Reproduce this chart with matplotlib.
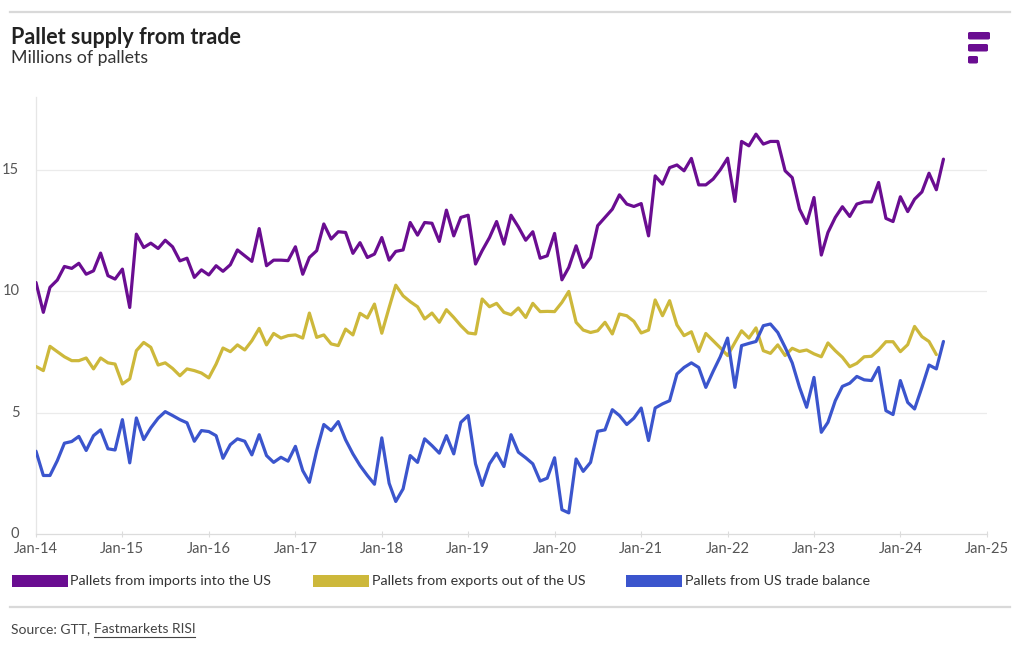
import matplotlib
matplotlib.use("Agg")
import matplotlib.pyplot as plt
import matplotlib.dates as mdates
from matplotlib.patches import Rectangle, FancyBboxPatch
from matplotlib.lines import Line2D
import pandas as pd

# ---------------- data (millions of pallets, monthly) ----------------
imports_us = [
    10.36, 9.13, 10.16, 10.46, 11.02, 10.94, 11.15, 10.70, 10.84, 11.57, 10.64, 10.50,
    10.91, 9.33, 12.35, 11.80, 11.98, 11.76, 12.10, 11.83, 11.25, 11.36, 10.57, 10.88,
    10.67, 11.05, 10.82, 11.09, 11.70, 11.46, 11.23, 12.58, 11.05, 11.28, 11.28, 11.26,
    11.83, 10.70, 11.39, 11.67, 12.77, 12.15, 12.45, 12.42, 11.56, 12.00, 11.39, 11.53,
    12.21, 11.28, 11.64, 11.70, 12.83, 12.31, 12.83, 12.80, 12.05, 13.34, 12.28, 13.04,
    13.13, 11.12, 11.67, 12.21, 12.87, 11.94, 13.13, 12.65, 12.10, 12.45, 11.36, 11.46,
    12.38, 10.47, 10.98, 11.87, 10.98, 11.39, 12.70, 13.04, 13.38, 13.97, 13.59, 13.49,
    13.61, 12.28, 14.75, 14.41, 15.09, 15.20, 14.96, 15.47, 14.38, 14.38, 14.62, 15.00,
    15.48, 13.70, 16.17, 15.99, 16.47, 16.06, 16.17, 16.17, 14.96, 14.68, 13.38, 12.79,
    13.86, 11.49, 12.42, 13.04, 13.48, 13.08, 13.59, 13.68, 13.68, 14.48, 13.00, 12.87,
    13.89, 13.28, 13.79, 14.09, 14.86, 14.18, 15.44,
]
exports_us = [
    6.90, 6.73, 7.73, 7.51, 7.30, 7.14, 7.14, 7.25, 6.80, 7.25, 7.05, 7.00,
    6.18, 6.39, 7.55, 7.89, 7.69, 6.96, 7.05, 6.82, 6.52, 6.80, 6.73, 6.63,
    6.43, 7.00, 7.66, 7.51, 7.79, 7.58, 7.96, 8.47, 7.79, 8.26, 8.07, 8.17,
    8.20, 8.07, 9.10, 8.10, 8.20, 7.83, 7.76, 8.44, 8.20, 9.09, 8.90, 9.47,
    8.27, 9.33, 10.25, 9.81, 9.57, 9.36, 8.86, 9.10, 8.72, 9.24, 8.92, 8.58,
    8.28, 8.24, 9.68, 9.36, 9.50, 9.13, 9.03, 9.31, 8.92, 9.50, 9.16, 9.17,
    9.16, 9.54, 9.99, 8.72, 8.40, 8.30, 8.37, 8.72, 8.24, 9.06, 8.99, 8.76,
    8.28, 8.40, 9.64, 8.99, 9.61, 8.61, 8.17, 8.33, 7.52, 8.26, 7.96, 7.67,
    7.35, 7.89, 8.37, 8.07, 8.49, 7.55, 7.44, 7.79, 7.35, 7.65, 7.52, 7.58,
    7.42, 7.30, 7.87, 7.55, 7.28, 6.89, 7.03, 7.30, 7.32, 7.58, 7.92, 7.92,
    7.51, 7.80, 8.55, 8.13, 7.93, 7.39,
]
trade_balance = [
    3.41, 2.41, 2.41, 3.02, 3.74, 3.81, 4.02, 3.44, 4.05, 4.29, 3.51, 3.46,
    4.71, 2.93, 4.78, 3.89, 4.37, 4.77, 5.04, 4.88, 4.71, 4.58, 3.82, 4.26,
    4.22, 4.05, 3.12, 3.68, 3.92, 3.82, 3.26, 4.09, 3.23, 2.95, 3.16, 3.00,
    3.61, 2.61, 2.13, 3.44, 4.51, 4.26, 4.63, 3.88, 3.30, 2.82, 2.41, 2.05,
    3.96, 2.09, 1.34, 1.86, 3.23, 2.95, 3.92, 3.64, 3.33, 4.05, 3.30, 4.60,
    4.88, 2.89, 2.00, 2.89, 3.33, 2.78, 4.09, 3.37, 3.14, 2.89, 2.18, 2.30,
    3.14, 1.00, 0.87, 3.09, 2.58, 2.95, 4.23, 4.29, 5.12, 4.88, 4.51, 4.77,
    5.19, 3.85, 5.19, 5.36, 5.49, 6.59, 6.86, 7.05, 6.86, 6.04, 6.70, 7.30,
    8.07, 6.04, 7.76, 7.85, 7.93, 8.58, 8.65, 8.30, 7.69, 7.05, 6.04, 5.22,
    6.45, 4.19, 4.60, 5.49, 6.08, 6.21, 6.49, 6.35, 6.32, 6.86, 5.08, 4.92,
    6.32, 5.42, 5.15, 6.04, 6.96, 6.80, 7.93,
]
series_names = ["Pallets from imports into the US",
                "Pallets from exports out of the US",
                "Pallets from US trade balance"]
start_month = "2014-01-01"
y_ticks = [0, 5, 10, 15]
tick_years = list(range(2014, 2026))

# ---------------- style ----------------
FONT = ["Lato", "DejaVu Sans"]
plt.rcParams["font.family"] = FONT
colors = ["#6A0D91", "#CDB83B", "#3B55CD"]
grid_c = "#ebebeb"
txt_c = "#333333"
tick_c = "#555555"

fig = plt.figure(figsize=(10.2, 6.5), dpi=100)
W, H = 1020, 650

def fx(px):
    return px / W

def fy(py):
    return 1 - py / H

ax = fig.add_axes([fx(36), fy(534), fx(987) - fx(36), fy(97) - fy(534)])

for vals, c in zip([imports_us, exports_us, trade_balance], colors):
    dates = pd.date_range(start_month, periods=len(vals), freq="MS")
    ax.plot(dates, vals, color=c, lw=2.3, solid_joinstyle="round",
            solid_capstyle="round", zorder=3)

ax.set_ylim(0, 18)
ax.set_xlim(pd.Timestamp("2014-01-01"), pd.Timestamp("2025-01-01"))
ax.set_yticks(y_ticks)
ax.set_yticklabels([str(v) for v in y_ticks])
ax.set_xticks([pd.Timestamp(f"{y}-01-01") for y in tick_years])
ax.xaxis.set_major_formatter(mdates.DateFormatter("%b-%y"))

for v in y_ticks[1:]:
    ax.axhline(v, color=grid_c, lw=0.9, zorder=1)

for s in ["top", "right"]:
    ax.spines[s].set_visible(False)
ax.spines["left"].set_color("#e6e6e6")
ax.spines["left"].set_linewidth(0.9)
ax.spines["bottom"].set_color("#dcdcdc")
ax.spines["bottom"].set_linewidth(0.9)

ax.tick_params(axis="y", length=0, pad=12, labelsize=10.5, labelcolor=tick_c)
ax.tick_params(axis="x", length=4, width=0.8, color="#dcdcdc", direction="inout",
               pad=4, labelsize=10.5, labelcolor=tick_c)
for lab in ax.get_yticklabels():
    lab.set_verticalalignment("center")

# ---------------- header ----------------
fig.add_artist(Line2D([fx(10), fx(1010)], [fy(12), fy(12)], color="#d9d9d9", lw=1.6))
fig.text(fx(11), fy(37), "Pallet supply from trade", fontsize=15.5, fontweight="bold",
         color="#222222", va="center", ha="left")
fig.text(fx(11), fy(58), "Millions of pallets", fontsize=12.8, color="#333333",
         va="center", ha="left")

# logo
for (x0, y0, x1, y1) in [(968, 32, 990, 39.5), (968, 44, 988, 51.5), (968, 56, 978, 63.5)]:
    fig.add_artist(FancyBboxPatch((fx(x0), fy(y1)), fx(x1) - fx(x0), fy(y0) - fy(y1),
                                  boxstyle="round,pad=0,rounding_size=0.002",
                                  transform=fig.transFigure, color="#6A0D91", lw=0))

# ---------------- legend ----------------
legend_pos = [(12, 70), (313, 372), (626, 685)]
for (px, tx), name, c in zip(legend_pos, series_names, colors):
    fig.add_artist(Rectangle((fx(px), fy(587)), fx(56), 12 / H,
                             transform=fig.transFigure, color=c, lw=0))
    fig.text(fx(tx), fy(581), name, fontsize=10.3, color=txt_c, va="center", ha="left")

# ---------------- footer ----------------
fig.add_artist(Line2D([fx(10), fx(1010)], [fy(607), fy(607)], color="#d9d9d9", lw=1.6))
t1 = fig.text(fx(11), fy(629), "Source: GTT, ", fontsize=10, color="#444444",
              va="center", ha="left")
fig.canvas.draw()
r = fig.canvas.get_renderer()
bb = t1.get_window_extent(r)
t2 = fig.text(bb.x1 / W, fy(629), "Fastmarkets RISI", fontsize=10, color="#444444",
              va="center", ha="left")
bb2 = t2.get_window_extent(r)
fig.add_artist(Line2D([bb2.x0 / W, bb2.x1 / W], [fy(637), fy(637)], color="#444444", lw=0.8))

fig.savefig("out.png", dpi=100)
